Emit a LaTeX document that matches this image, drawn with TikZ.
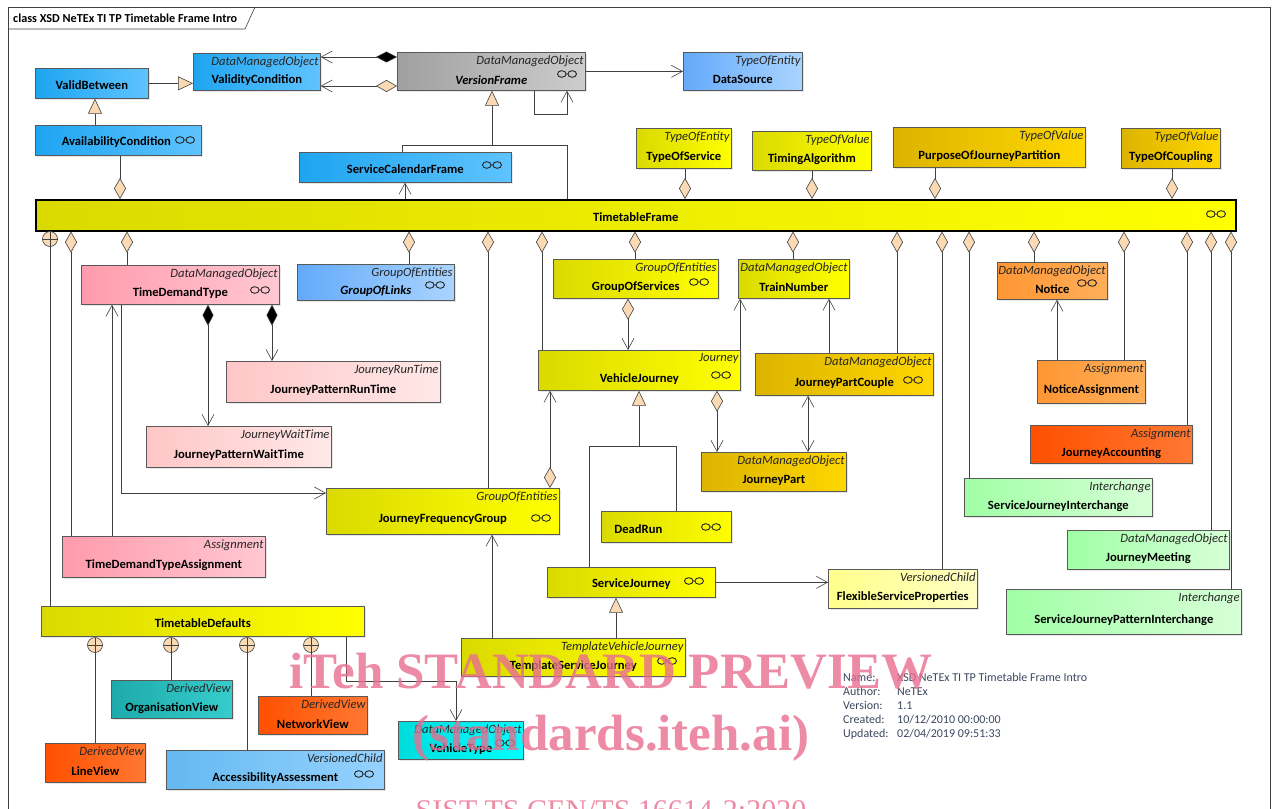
\documentclass[tikz,border=0pt]{standalone}
\usepackage{fontspec}
\setmainfont{Carlito}
\newfontfamily\wmfont{Liberation Serif}
\usetikzlibrary{arrows.meta,calc,positioning,shadows}

\definecolor{dia}{RGB}{250,218,180}
\definecolor{bluA}{RGB}{30,165,240}\definecolor{bluB}{RGB}{95,195,255}
\definecolor{lbluA}{RGB}{100,170,250}\definecolor{lbluB}{RGB}{170,212,255}
\definecolor{gryA}{RGB}{160,160,160}\definecolor{gryB}{RGB}{205,205,205}
\definecolor{yelA}{RGB}{218,218,0}\definecolor{yelB}{RGB}{255,255,0}
\definecolor{goldA}{RGB}{220,180,0}\definecolor{goldB}{RGB}{255,215,0}
\definecolor{pinkA}{RGB}{255,155,172}\definecolor{pinkB}{RGB}{255,200,210}
\definecolor{rosA}{RGB}{255,198,198}\definecolor{rosB}{RGB}{255,232,232}
\definecolor{orA}{RGB}{255,150,50}\definecolor{orB}{RGB}{255,175,90}
\definecolor{redA}{RGB}{255,80,0}\definecolor{redB}{RGB}{255,120,50}
\definecolor{grnA}{RGB}{160,255,165}\definecolor{grnB}{RGB}{215,255,215}
\definecolor{lyelA}{RGB}{255,255,140}\definecolor{lyelB}{RGB}{255,255,195}
\definecolor{tealA}{RGB}{30,170,170}\definecolor{tealB}{RGB}{55,205,205}
\definecolor{cyanA}{RGB}{0,220,220}\definecolor{cyanB}{RGB}{0,255,255}
\definecolor{skyA}{RGB}{100,185,240}\definecolor{skyB}{RGB}{150,210,255}
\definecolor{wmark}{RGB}{232,110,145}
\definecolor{notetxt}{RGB}{60,70,95}

\tikzset{
  cls/.style={draw=black!65, line width=.7pt, rectangle, anchor=north west, inner sep=0pt,
    drop shadow={shadow xshift=1.5pt, shadow yshift=-1.5pt, opacity=.2}},
  blu/.style={left color=bluA, right color=bluB},
  lblu/.style={left color=lbluA, right color=lbluB},
  gry/.style={left color=gryA, right color=gryB},
  yel/.style={left color=yelA, right color=yelB},
  gold/.style={left color=goldA, right color=goldB},
  pnk/.style={left color=pinkA, right color=pinkB},
  ros/.style={left color=rosA, right color=rosB},
  orng/.style={left color=orA, right color=orB},
  rd/.style={left color=redA, right color=redB},
  grn/.style={left color=grnA, right color=grnB},
  lyel/.style={left color=lyelA, right color=lyelB},
  teal/.style={left color=tealA, right color=tealB},
  cyn/.style={left color=cyanA, right color=cyanB},
  sky/.style={left color=skyA, right color=skyB},
  stereo/.style={anchor=north east, inner xsep=2pt, inner ysep=3.5pt, font=\itshape\fontsize{12.6}{13}\selectfont, text=black!85},
  cname/.style={inner sep=0pt, font=\bfseries\fontsize{12.6}{13}\selectfont},
  cn/.style={draw=black!75, line width=.6pt},
  opn/.tip={Straight Barb[length=11pt,width=12pt]},
  gen/.tip={Triangle[length=15pt,width=14pt,fill=dia]},
  agd/.tip={Diamond[length=21pt,width=12pt,fill=dia]},
  cmd/.tip={Diamond[length=21pt,width=11pt,fill=black]},
  ico/.pic={\draw[line width=.9pt, black!85] (-5.2pt,0) ellipse (4.3pt and 3.3pt) (5.2pt,0) ellipse (4.3pt and 3.3pt)
      (-1pt,0) -- (1pt,0);},
  nest/.pic={\draw[cn, fill=dia] (0,0) circle (7.5pt); \draw[cn] (-7.5pt,0) -- (7.5pt,0) (0,-7.5pt) -- (0,7.5pt);},
  wm/.style={anchor=base, text=wmark, opacity=.8, font=\wmfont\bfseries\fontsize{51}{51}\selectfont},
}

% class with stereotype: name, colour, x, y, width, height, stereotype, class name
\newcommand{\umlcls}[8]{%
  \node[cls,#2,minimum width=#5pt,minimum height=#6pt] (#1) at (#3,#4) {};
  \node[stereo] (#1-st) at (#1.north east) {#7};
  \node[cname] (#1-nm) at ([yshift=-8.5pt]#1.center) {#8};}

\begin{document}
\begin{tikzpicture}[x=1pt,y=-1pt]
  \useasboundingbox (0,0) rectangle (1276,808);
  % frame
  \draw[cn] (8,840) -- (8,7) -- (1270,7) -- (1270,840);
  \draw[cn] (8,29) -- (245,29) -- (255,7);
  \node[anchor=west, inner sep=0pt, font=\bfseries\fontsize{12.2}{13}\selectfont] (title) at (13,18)
    {class XSD NeTEx TI TP Timetable Frame Intro};

  % upper classes
  \node[cls,blu,minimum width=113pt,minimum height=30pt] (vb) at (35,68) {};
  \node[cname] at ([yshift=-2pt]vb.center) {ValidBetween};
  \node[cls,blu,minimum width=166pt,minimum height=30pt] (ac) at (35,125) {};
  \node[cname] at ([xshift=-2pt,yshift=-2pt]ac.center) {AvailabilityCondition};
  \umlcls{vc}{blu}{193}{53}{127}{37}{DataManagedObject}{ValidityCondition}
  \umlcls{vf}{gry}{397}{52}{188}{38}{DataManagedObject}{\textit{VersionFrame}}
  \umlcls{ds}{lblu}{683}{52}{119}{38}{TypeOfEntity}{DataSource}
  \node[cls,blu,minimum width=212pt,minimum height=30pt] (scf) at (299,152) {};
  \node[cname] at ([yshift=-2pt]scf.center) {ServiceCalendarFrame};
  \umlcls{tos}{yel}{636}{128}{95}{40}{TypeOfEntity}{TypeOfService}
  \umlcls{ta}{yel}{752}{131}{119}{39}{TypeOfValue}{TimingAlgorithm}
  \umlcls{pjp}{gold}{893}{127}{192}{40}{TypeOfValue}{PurposeOfJourneyPartition}
  \umlcls{toc}{gold}{1121}{128}{99}{40}{TypeOfValue}{TypeOfCoupling}
  \node[cls,yel,draw=black,line width=1.6pt,minimum width=1200pt,minimum height=31pt] (ttf) at (35,199) {};
  \node[cname] at ([yshift=-2pt]ttf.center) {TimetableFrame};

  % classes below the frame
  \umlcls{tdt}{pnk}{81}{265}{198}{39}{DataManagedObject}{TimeDemandType}
  \umlcls{gol}{lblu}{297}{264}{157}{36}{GroupOfEntities}{\textit{GroupOfLinks}}
  \umlcls{gos}{yel}{553}{259}{165}{39}{GroupOfEntities}{GroupOfServices}
  \umlcls{tn}{yel}{738}{259}{111}{39}{DataManagedObject}{TrainNumber}
  \umlcls{nt}{orng}{997}{262}{110}{37}{DataManagedObject}{Notice}
  \umlcls{jprt}{ros}{226}{361}{214}{41}{JourneyRunTime}{JourneyPatternRunTime}
  \umlcls{vj}{yel}{538}{350}{202}{40}{Journey}{VehicleJourney}
  \umlcls{jpc}{gold}{755}{353}{178}{42}{DataManagedObject}{JourneyPartCouple}
  \umlcls{na}{orng}{1037}{360}{108}{43}{Assignment}{NoticeAssignment}
  \umlcls{jpwt}{ros}{146}{426}{185}{41}{JourneyWaitTime}{JourneyPatternWaitTime}
  \umlcls{jp}{gold}{701}{452}{145}{39}{DataManagedObject}{JourneyPart}
  \umlcls{ja}{rd}{1030}{425}{162}{38}{Assignment}{JourneyAccounting}
  \umlcls{jfg}{yel}{326}{488}{233}{46}{GroupOfEntities}{JourneyFrequencyGroup}
  \node[cls,yel,minimum width=130pt,minimum height=31pt] (dr) at (601,511) {};
  \node[cname] at ([xshift=-28pt,yshift=-2pt]dr.center) {DeadRun};
  \umlcls{sji}{grn}{964}{478}{188}{38}{Interchange}{ServiceJourneyInterchange}
  \umlcls{tdta}{pnk}{62}{536}{203}{41}{Assignment}{TimeDemandTypeAssignment}
  \umlcls{jm}{grn}{1067}{530}{162}{39}{DataManagedObject}{JourneyMeeting}
  \node[cls,yel,minimum width=168pt,minimum height=30pt] (sj) at (547,567) {};
  \node[cname] at ([yshift=-2pt]sj.center) {ServiceJourney};
  \umlcls{fsp}{lyel}{828}{569}{149}{39}{VersionedChild}{FlexibleServiceProperties}
  \umlcls{sjpi}{grn}{1006}{589}{235}{45}{Interchange}{ServiceJourneyPatternInterchange}
  \node[cls,yel,minimum width=323pt,minimum height=30pt] (td) at (41,606) {};
  \node[cname] at ([yshift=-2pt]td.center) {TimetableDefaults};
  \umlcls{tsj}{yel}{461}{638}{224}{38}{TemplateVehicleJourney}{TemplateServiceJourney}
  \umlcls{ov}{teal}{111}{680}{121}{38}{DerivedView}{OrganisationView}
  \umlcls{nv}{rd}{258}{696}{109}{38}{DerivedView}{NetworkView}
  \umlcls{vt}{cyn}{398}{721}{125}{38}{DataManagedObject}{VehicleType}
  \umlcls{lv}{rd}{45}{743}{100}{39}{DerivedView}{LineView}
  \umlcls{aa}{sky}{166}{750}{218}{39}{VersionedChild}{AccessibilityAssessment}

  % icons
  \foreach \ix/\iy in {185/140,567/74,492/165,1216/214,260/290,435/285,699/282,721/375,
      913/380,1087/283,541/518,711/527,694/581,667/661,505/743,364/774}
    \pic at (\ix,\iy) {ico};

  % upper connectors
  \draw[cn,-gen] (vb.east) -- (vc.west |- vb.east);
  \draw[cn,-gen] (ac.north -| 95,0) -- (vb.south -| 95,0);
  \draw[cn,cmd-opn] (vf.west |- 0,57) -- (vc.east |- 0,57);
  \draw[cn,agd-opn] (vf.west |- 0,86) -- (vc.east |- 0,86);
  \draw[cn,-opn] (vf.east) -- (ds.west |- vf.east);
  \draw[cn,-opn] (vf.south -| 534,0) -- (534,114) -- (567,114) -- (vf.south -| 567,0);
  \draw[cn] (scf.north -| 402,0) -- (402,145) -- (567,145) -- (ttf.north -| 567,0);
  \draw[cn,-gen] (492,145) -- (vf.south -| 492,0);
  \draw[cn,-opn] (ttf.north -| 405,0) -- (scf.south -| 405,0);
  \foreach \xx/\nn in {120/ac,685/tos,812/ta,935/pjp,1172/toc}
    \draw[cn,agd-] (ttf.north -| \xx,0) -- (\nn.south -| \xx,0);

  % from the timetable frame
  \foreach \xx/\nn in {71/tdta,127/tdt,409/gol,488/jfg,542/vj,635/gos,793/tn,897/jpc,942/fsp,
      969/sji,1034/nt,1124/na,1187/ja,1211/jm,1231/sjpi}
    \draw[cn,agd-] (ttf.south -| \xx,0) -- (\nn.north -| \xx,0);
  \draw[cn] (50,246) -- (td.north -| 50,0);
  \pic at (50,239) {nest};

  % journeys
  \draw[cn,cmd-opn] (tdt.south -| 208,0) -- (jpwt.north -| 208,0);
  \draw[cn,cmd-opn] (tdt.south -| 272,0) -- (jprt.north -| 272,0);
  \draw[cn,-opn] (tdta.north -| 112,0) -- (tdt.south -| 112,0);
  \draw[cn,-opn] (tdt.south -| 121,0) |- (jfg.west |- 0,493);
  \draw[cn,agd-opn] (jfg.north -| 550,0) -- (vj.south -| 550,0);
  \draw[cn,-opn] (tsj.north -| 492,0) -- (jfg.south -| 492,0);
  \draw[cn,agd-opn] (gos.south -| 628,0) -- (vj.north -| 628,0);
  \draw[cn,-opn] (vj.north -| 740,0) -- (tn.south -| 740,0);
  \draw[cn,-opn] (jpc.north -| 829,0) -- (tn.south -| 829,0);
  \draw[cn,agd-opn] (vj.south -| 717,0) -- (jp.north -| 717,0);
  \draw[cn,opn-opn] (jpc.south -| 808,0) -- (jp.north -| 808,0);
  \draw[cn,-opn] (na.north -| 1057,0) -- (nt.south -| 1057,0);
  \draw[cn] (sj.north -| 589,0) -- (589,446) -- (676,446) -- (dr.north -| 676,0);
  \draw[cn,-gen] (639,446) -- (vj.south -| 639,0);
  \draw[cn,-opn] (sj.east) -- (fsp.west |- sj.east);
  \draw[cn,-gen] (tsj.north -| 616,0) -- (sj.south -| 616,0);

  % defaults
  \foreach \xx/\nn in {95/lv,171/ov,247/aa,311/nv} {
    \draw[cn] (\xx,652) -- (\nn.north -| \xx,0);
    \pic at (\xx,645) {nest};
  }
  \draw[cn,-opn] (td.south -| 346,0) |- (456,681) -- (vt.north -| 456,0);

  % note
  \node[anchor=north west, inner sep=0pt, text=notetxt, font=\fontsize{12}{14.2}\selectfont] (note) at (843,671)
    {\begin{tabular}{@{}p{54pt}@{}l@{}}
      Name: & XSD NeTEx TI TP Timetable Frame Intro\\
      Author: & NeTEx\\
      Version: & 1.1\\
      Created: & 10/12/2010 00:00:00\\
      Updated: & 02/04/2019 09:51:33
    \end{tabular}};

  % watermark
  \node[wm] (wm1) at (611,688) {iTeh STANDARD PREVIEW};
  \node[wm] (wm2) at (611,750) {(standards.iteh.ai)};
  \node[wm, font=\wmfont\fontsize{30}{30}\selectfont] (wm3) at (611,820) {SIST-TS CEN/TS 16614-2:2020};
\end{tikzpicture}
\end{document}
